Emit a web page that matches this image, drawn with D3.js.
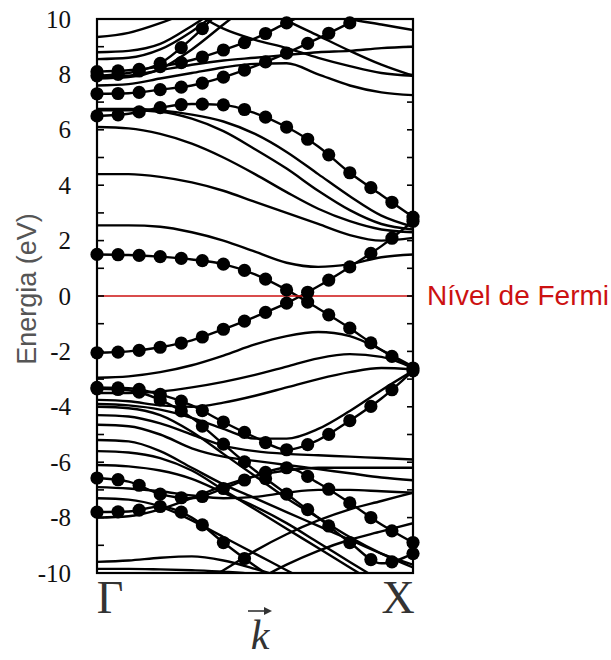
<!DOCTYPE html>
<html>
<head>
<meta charset="utf-8">
<script src="https://d3js.org/d3.v7.min.js"></script>
<style>
  body { margin: 0; background: #fff; }
  svg { display: block; }
</style>
</head>
<body>
<div id="chart"></div>
<script>
/*  *********************************************
    DATA - energies (eV), one value per k step
    ********************************************* */

// k goes from Gamma (0) to X (1) in 0.1 steps
var kGrid = [0, 0.1, 0.2, 0.3, 0.4, 0.5, 0.6, 0.7, 0.8, 0.9, 1.0];

// bands drawn with dots on them
var dotBandFermiA = [1.5, 1.48, 1.42, 1.32, 1.15, 0.78, 0.22, -0.45, -1.16, -1.95, -2.6];
var dotBandFermiB = [-2.05, -2.0, -1.85, -1.6, -1.2, -0.75, -0.26, 0.35, 1.05, 1.8, 2.7];
var dotBand65 = [6.5, 6.58, 6.8, 6.93, 6.9, 6.6, 6.1, 5.4, 4.45, 3.65, 2.85];
var dotBand73 = [7.3, 7.32, 7.45, 7.6, 7.9, 8.3, 8.77, 9.3, 9.86, 10.4, 10.9];
var dotBand81 = [8.1, 8.15, 8.28, 8.52, 8.88, 9.3, 9.86, 10.4, 10.9, 11.4, 11.9];
var dotBandSteep = [7.95, 8.05, 8.4, 9.3, 10.4, 11.4, 12.4, 13.4, 14.4, 15.4, 16.4];
var dotBandValley = [-3.3, -3.33, -3.55, -3.95, -4.55, -5.1, -5.55, -5.2, -4.5, -3.7, -2.7];
var dotBandDown = [-3.35, -3.4, -3.75, -4.4, -5.35, -6.3, -7.15, -8.0, -8.9, -9.65, -9.3];
var dotBand66 = [-6.57, -6.7, -7.15, -7.3, -6.95, -6.5, -6.2, -6.75, -7.47, -8.25, -8.9];
var dotBand78 = [-7.8, -7.78, -7.6, -8.0, -8.9, -9.75, -10.5, -11.2, -12, -12.8, -13.5];

// plain bands
var bandsUpper = [
    [2.55, 2.55, 2.5, 2.3, 2.0, 1.6, 1.2, 1.05, 1.15, 1.4, 1.5],
    [4.4, 4.4, 4.3, 4.1, 3.8, 3.4, 3.0, 2.6, 2.2, 2.0, 2.1],
    [6.1, 6.05, 5.85, 5.5, 5.0, 4.4, 3.75, 3.15, 2.7, 2.4, 2.3],
    [6.75, 6.75, 6.7, 6.55, 6.3, 5.85, 5.2, 4.4, 3.6, 2.9, 2.5],
    [6.7, 6.7, 6.65, 6.4, 5.95, 5.3, 4.6, 3.8, 3.1, 2.6, 2.4],
    [9.35, 9.5, 9.85, 10.3, 10.8, 11.3, 11.8, 12.3, 12.8, 13.3, 13.8],
    [8.8, 8.85, 9.1, 9.75, 10.5, 11.3, 12.1, 12.9, 13.7, 14.5, 15.3],
    [8.55, 8.6, 8.9, 9.55, 10.4, 11.2, 12.0, 12.8, 13.6, 14.4, 15.2],
    [7.85, 7.9, 8.2, 8.9, 9.8, 10.7, 11.6, 12.5, 13.4, 14.3, 15.2],
    [7.6, 7.65, 7.85, 8.05, 8.25, 8.38, 8.4, 8.0, 7.6, 7.35, 7.25],
    [7.9, 7.95, 8.15, 8.35, 8.5, 8.6, 8.7, 8.8, 8.85, 8.95, 9.0],
    [12.5, 11.8, 11.1, 10.3, 9.65, 9.25, 8.95, 8.6, 8.3, 8.05, 7.95],
    [14.0, 13.4, 12.8, 12.0, 11.3, 10.6, 9.95, 9.4, 8.85, 8.35, 7.95],
    [15.0, 14.0, 13.0, 12.3, 11.7, 11.2, 10.7, 10.3, 10.0, 9.8, 9.6]
];
var bandsLower = [
    [-2.95, -2.9, -2.75, -2.5, -2.15, -1.75, -1.45, -1.3, -1.45, -1.95, -2.55],
    [-3.5, -3.5, -3.45, -3.3, -3.1, -2.85, -2.55, -2.25, -2.1, -2.2, -2.6],
    [-3.75, -3.8, -3.95, -4.0, -3.85, -3.6, -3.3, -3.0, -2.75, -2.6, -2.65],
    [-3.9, -3.95, -4.1, -4.4, -4.8, -5.15, -5.15, -4.8, -4.15, -3.4, -2.7],
    [-4.0, -4.05, -4.3, -4.9, -5.7, -6.5, -7.3, -8.0, -8.7, -9.3, -9.8],
    [-4.3, -4.35, -4.6, -5.0, -5.4, -5.6, -5.7, -5.75, -5.8, -5.85, -5.9],
    [-4.65, -4.7, -5.0, -5.5, -5.8, -5.95, -6.1, -6.25, -6.4, -6.55, -6.65],
    [-5.2, -5.25, -5.6, -6.2, -6.8, -7.3, -7.8, -8.3, -8.8, -9.3, -9.7],
    [-5.6, -5.65, -5.85, -6.3, -7.0, -7.7, -8.4, -9.1, -9.8, -10.5, -11.2],
    [-6.1, -6.15, -6.3, -6.6, -7.1, -7.6, -8.2, -8.9, -9.6, -10.3, -11.0],
    [-6.9, -6.95, -7.05, -7.2, -7.3, -7.25, -7.1, -7.0, -7.0, -7.05, -7.1],
    [-7.3, -7.35, -7.6, -8.1, -8.7, -9.3, -9.9, -10.5, -11.1, -11.7, -12.3],
    [-8.0, -7.95, -7.7, -7.3, -6.85, -6.5, -6.3, -6.2, -6.2, -6.2, -6.2],
    [-12.0, -11.5, -11.0, -10.5, -9.9, -9.2, -8.6, -8.1, -7.7, -7.4, -7.1],
    [-13.0, -12.6, -12.2, -11.6, -11.0, -10.3, -9.7, -9.2, -8.8, -8.5, -8.2],
    [-9.6, -9.55, -9.45, -9.4, -9.55, -9.85, -10.2, -10.6, -11.0, -11.4, -11.8],
    [-9.85, -9.85, -9.87, -9.9, -9.95, -10.05, -10.3, -10.6, -11.0, -11.4, -11.8]
];

// tick labels on the energy axis
var energyTicks = [10, 8, 6, 4, 2, 0, -2, -4, -6, -8, -10];
var kLabels = ["\u0393", "X"];
var dotCount = 16;

/*  *********************************************
    CREATE THE SVG
    ********************************************* */

var svgWidth = 611;
var svgHeight = 660;

var chartMarg = {
    top: 19,
    bottom: 87,
    right: 198,
    left: 97
};

var chartWidth = svgWidth - chartMarg.left - chartMarg.right;
var chartHeight = svgHeight - chartMarg.top - chartMarg.bottom;

var svg = d3.select("#chart")
    .append("svg")
    .attr("width", svgWidth)
    .attr("height", svgHeight);

var chartGroup = svg.append("g")
    .attr("transform", `translate(${chartMarg.left}, ${chartMarg.top})`);

svg.append("defs").append("clipPath")
    .attr("id", "plotClip")
    .append("rect")
    .attr("width", chartWidth)
    .attr("height", chartHeight);

// scales
var xScale = d3.scaleLinear().domain([0, 1]).range([0, chartWidth]);
var yScale = d3.scaleLinear().domain([-10, 10]).range([chartHeight, 0]);

var bandLine = d3.line()
    .x((d, i) => xScale(kGrid[i]))
    .y(d => yScale(d))
    .curve(d3.curveMonotoneX);

/*  *********************************************
    DRAW THE BANDS
    ********************************************* */

var bandGroup = chartGroup.append("g").attr("clip-path", "url(#plotClip)");

bandGroup.selectAll(".band")
    .data(bandsUpper.concat(bandsLower))
    .enter()
    .append("path")
    .attr("class", "band")
    .attr("d", bandLine)
    .attr("fill", "none")
    .attr("stroke", "#000")
    .attr("stroke-width", 2.4);

var dotBands = [dotBandFermiA, dotBandFermiB, dotBand65, dotBand73, dotBand81,
    dotBandSteep, dotBandValley, dotBandDown, dotBand66, dotBand78];

// Fermi level
chartGroup.append("line")
    .attr("x1", 0)
    .attr("x2", chartWidth)
    .attr("y1", yScale(0))
    .attr("y2", yScale(0))
    .attr("stroke", "#cc1111")
    .attr("stroke-width", 1.6);

var dotGroup = chartGroup.append("g");

dotBands.forEach(function(band) {
    var path = bandGroup.append("path")
        .attr("d", bandLine(band))
        .attr("fill", "none")
        .attr("stroke", "#000")
        .attr("stroke-width", 2.4);

    // find the dot heights on the drawn curve
    var node = path.node();
    var total = node.getTotalLength();
    d3.range(dotCount).forEach(function(j) {
        var tx = xScale(j / (dotCount - 1));
        var lo = 0, hi = total;
        for (var n = 0; n < 30; n++) {
            var mid = (lo + hi) / 2;
            if (node.getPointAtLength(mid).x < tx) lo = mid; else hi = mid;
        }
        var p = node.getPointAtLength(hi);
        if (p.y < -4 || p.y > chartHeight - 4) return;
        dotGroup.append("circle")
            .attr("cx", tx)
            .attr("cy", p.y)
            .attr("r", 6.6)
            .attr("fill", "#000");
    });
});

/*  *********************************************
    FRAME, TICKS AND TEXT
    ********************************************* */

chartGroup.append("rect")
    .attr("width", chartWidth)
    .attr("height", chartHeight)
    .attr("fill", "none")
    .attr("stroke", "#000")
    .attr("stroke-width", 2.2);

var minorTicks = d3.range(-9, 10);
chartGroup.selectAll(".tickL")
    .data(minorTicks)
    .enter()
    .append("line")
    .attr("x1", 0)
    .attr("x2", 7)
    .attr("y1", d => yScale(d))
    .attr("y2", d => yScale(d))
    .attr("stroke", "#000")
    .attr("stroke-width", 1.6);
chartGroup.selectAll(".tickR")
    .data(minorTicks)
    .enter()
    .append("line")
    .attr("x1", chartWidth - 6)
    .attr("x2", chartWidth)
    .attr("y1", d => yScale(d))
    .attr("y2", d => yScale(d))
    .attr("stroke", "#000")
    .attr("stroke-width", 1.6);

chartGroup.selectAll(".yLabel")
    .data(energyTicks)
    .enter()
    .append("text")
    .attr("x", -26)
    .attr("y", d => yScale(d))
    .attr("dy", "0.34em")
    .attr("text-anchor", "end")
    .attr("font-family", "Liberation Serif")
    .attr("font-size", 25)
    .attr("fill", "#111")
    .text(d => d);

chartGroup.selectAll(".kLabel")
    .data(kLabels)
    .enter()
    .append("text")
    .attr("x", (d, i) => xScale(i) + (i === 0 ? 13 : -15))
    .attr("y", chartHeight + 40)
    .attr("text-anchor", "middle")
    .attr("font-family", "Liberation Serif")
    .attr("font-size", 46)
    .attr("fill", "#333")
    .text(d => d);

// k vector below the axis
svg.append("text")
    .attr("x", 260)
    .attr("y", 649)
    .attr("text-anchor", "middle")
    .attr("font-family", "Liberation Serif")
    .attr("font-style", "italic")
    .attr("font-size", 42)
    .attr("fill", "#333")
    .text("k");
svg.append("line")
    .attr("x1", 248)
    .attr("x2", 268)
    .attr("y1", 611)
    .attr("y2", 611)
    .attr("stroke", "#333")
    .attr("stroke-width", 1.6);
svg.append("path")
    .attr("d", "M264,607 L272,611 L264,615 Z")
    .attr("fill", "#333");

svg.append("text")
    .attr("transform", "translate(36, 289) rotate(-90)")
    .attr("text-anchor", "middle")
    .attr("font-family", "Liberation Sans")
    .attr("font-size", 27)
    .attr("fill", "#555")
    .text("Energia (eV)");

svg.append("text")
    .attr("x", 427)
    .attr("y", 305)
    .attr("font-family", "Liberation Sans")
    .attr("font-size", 28)
    .attr("fill", "#cc1111")
    .text("Nível de Fermi");
</script>
</body>
</html>
